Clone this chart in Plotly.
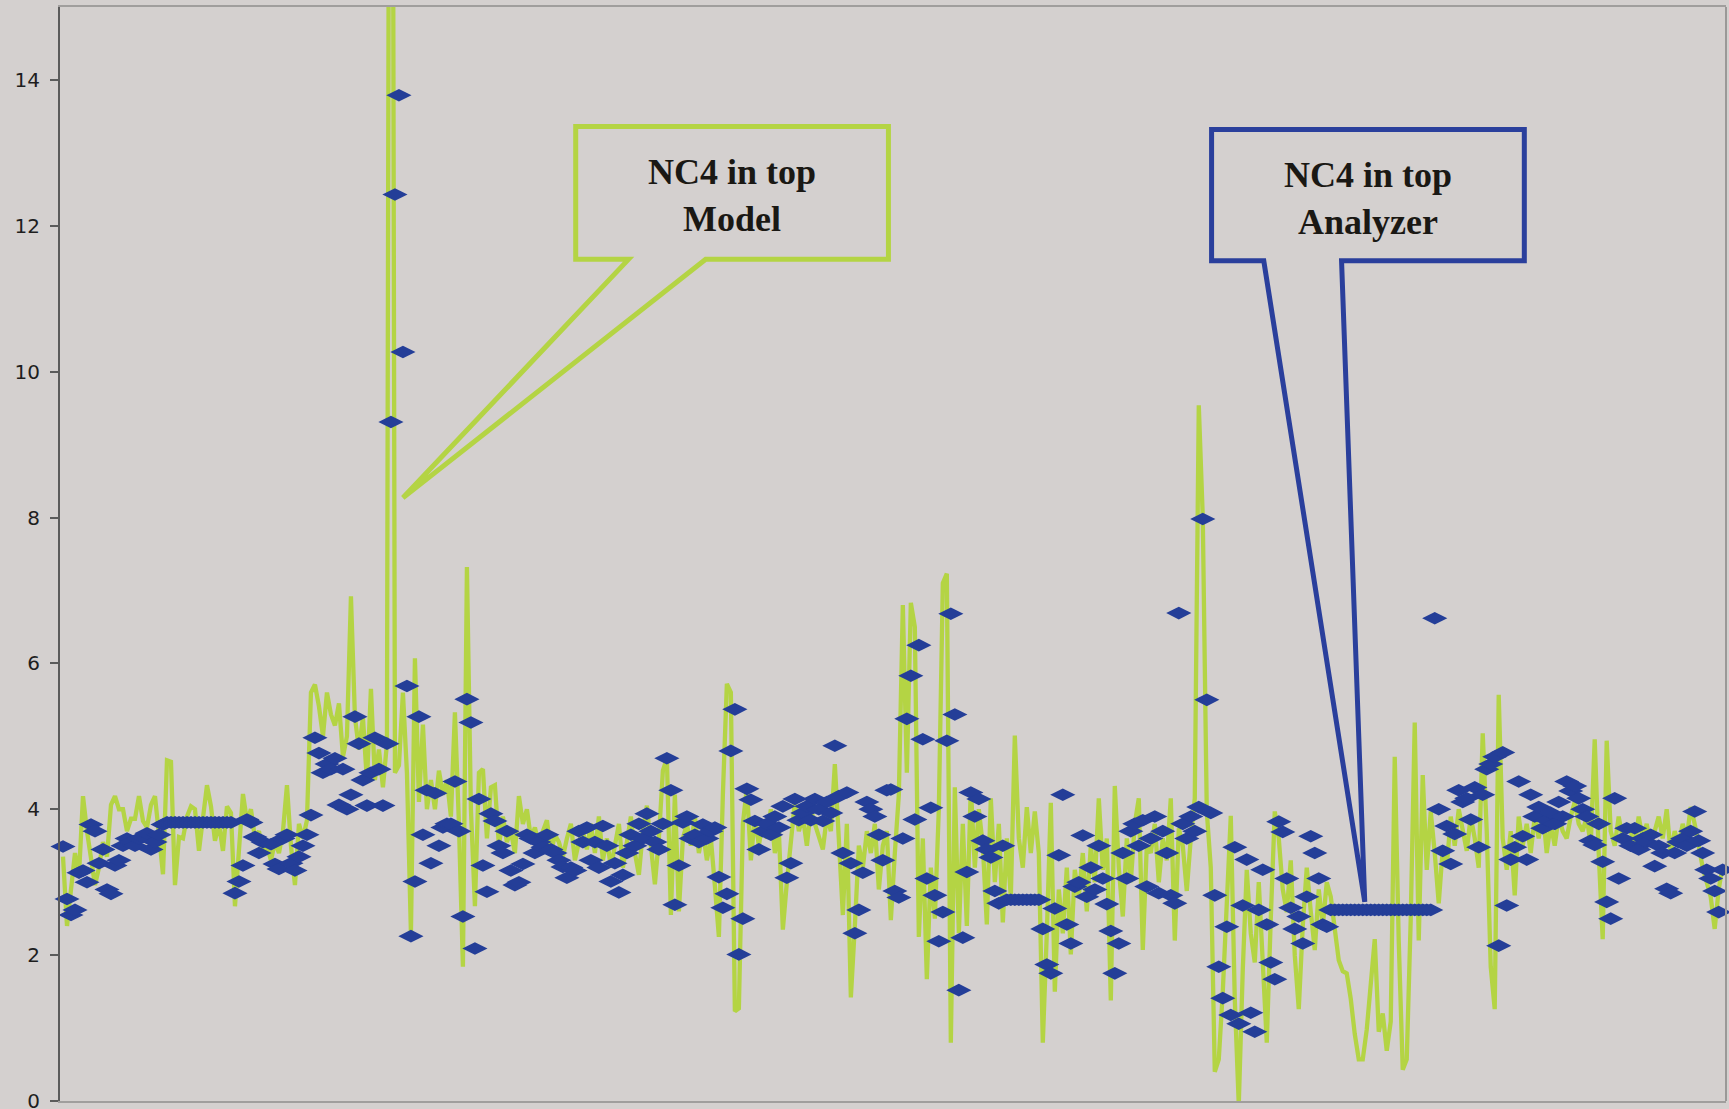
import plotly.graph_objects as go

# ---------------- data ----------------
analyzer = [
    3.49, 2.77, 2.55, 2.62, 3.13, 3.16, 3.00, 3.79, 3.70, 3.26,
    3.45, 2.90, 2.84, 3.23, 3.30, 3.50, 3.60, 3.55, 3.50, 3.60,
    3.62, 3.67, 3.45, 3.55, 3.65, 3.79,
    3.82, 3.82, 3.82, 3.82, 3.82, 3.82, 3.82, 3.82, 3.82, 3.82,
    3.82, 3.82, 3.82, 3.82, 3.82, 3.82, 3.82,
    2.85, 3.01, 3.23, 3.86, 3.82, 3.62, 3.40, 3.55,
    None, 3.52, 3.25, 3.18, 3.60, 3.65, 3.26, 3.16, 3.35, 3.50, 3.65, 3.92,
    4.98, 4.77, 4.50, 4.62, 4.55, 4.70, 4.06, 4.55, 4.00, 4.20,
    5.27, 4.90, 4.40, 4.05, 4.50, 4.98, 4.55, 4.05, 4.90,
    9.31, 12.43, 13.79, 10.27, 5.69, 2.26, 3.01, 5.27, 3.65, 4.26,
    3.26, 4.22, 3.50, 3.75, 3.80,
    3.80, 4.38, 3.70, 2.53, 5.51, 5.19, 2.09, 4.14, 3.23, 2.87,
    3.94, 3.84, 3.50, 3.40, 3.70, 3.16, 2.96, 3.00, 3.25, 3.65,
    3.60, 3.40, 3.55, 3.48, 3.65, 3.45, 3.40, 3.30, 3.21, 3.06,
    3.20, 3.16, 3.70, 3.55, 3.75, 3.30, 3.55, 3.20, 3.77, 3.50,
    3.01, 3.26, 2.86, 3.10, 3.40, 3.65, 3.50, 3.80, 3.60, 3.94,
    3.70, 3.55, 3.45, 3.80, 4.70, 4.26, 2.69, 3.23, 3.82, 3.90,
    3.60, 3.65, 3.55, 3.79, 3.60, 3.70, 3.75, 3.07, 2.65, 2.84,
    4.80, 5.37, 2.01, 2.50, 4.28, 4.13, 3.84, 3.45, 3.70, 3.80,
    3.65, 3.90, 3.75, 4.04, 3.06, 3.26, 4.14, 3.85, 3.95, 4.04,
    3.85, 4.14, 4.00, 3.84, 4.10, 3.95, 4.87, 4.18, 3.40, 4.23,
    3.26, 2.30, 2.62, 3.13, 4.10, 4.00, 3.90, 3.65, 3.30, 4.26,
    4.27, 2.88, 2.79, 3.60, 5.24, 5.83, 3.86, 6.25, 4.96, 3.05,
    4.02, 2.82, 2.19, 2.59, 4.94, 6.68, 5.30, 1.52, 2.24, 3.14,
    4.23, 3.90, 4.14, 3.57, 3.45, 3.34, 2.88, 2.71, 3.50, 2.76,
    2.76, 2.76, 2.76, 2.76, 2.76, 2.76, 2.76, 2.76, 2.36, 1.87,
    1.75, 2.64, 3.37, 4.20, 2.42, 2.16, 2.94, 3.00, 3.64, 2.80,
    3.20, 2.90, 3.50, 3.05, 2.70, 2.33, 1.75, 2.16, 3.40, 3.05,
    3.70, 3.80, 3.50, 3.85, 2.94, 3.60, 3.90, 2.85, 3.70, 3.40,
    2.82, 2.71, 6.69, 3.80, 3.60, 3.90, 3.70, 4.03, 7.98, 5.50,
    3.95, 2.82, 1.84, 1.41, 2.39, 1.18, 3.48, 1.06, 2.68, 3.31,
    1.21, 0.95, 2.62, 3.17, 2.42, 1.90, 1.67, 3.83, 3.69, 3.05,
    2.65, 2.36, 2.53, 2.16, 2.80, 3.63, 3.40, 3.05, 2.42, 2.39,
    2.62, 2.62, 2.62, 2.62, 2.62, 2.62, 2.62, 2.62, 2.62, 2.62,
    2.62, 2.62, 2.62, 2.62, 2.62, 2.62, 2.62, 2.62, 2.62, 2.62,
    2.62, 2.62, 2.62, 2.62, 2.62, 2.62,
    6.62, 4.00, 3.43, 3.77, 3.25, 3.66, 4.26, 4.10, 4.15, 3.86,
    4.30, 3.48, 4.20, 4.55, 4.62, 4.72, 2.13, 4.78, 2.68, 3.31,
    3.48, 4.38, 3.63, 3.31, 4.20, 3.90, 4.03, 3.74, 3.85, 3.95,
    3.80, 4.10, 3.90, 4.38, 4.25, 4.32, 4.15, 4.00, 3.90, 3.57,
    3.51, 3.80, 3.28, 2.73, 2.50, 4.15, 3.05, 3.60, 3.74, 3.50,
    3.74, 3.45, 3.60, 3.55, 3.65, 3.22, 3.50, 3.40, 2.91, 2.85,
    3.40, 3.55, 3.60, 3.50, 3.70, 3.97, 3.57, 3.40, 3.17, 3.05,
    2.88, 2.59, 3.17,
]

model = [
    3.35, 2.40, 2.90, 3.40, 3.10, 4.18, 3.70, 3.30, 2.96, 3.20,
    3.55, 3.35, 4.06, 4.18, 4.00, 4.00, 3.70, 3.87, 3.87, 4.18,
    3.84, 3.75, 4.06, 4.18, 3.60, 3.11,
    4.67, 4.65, 2.96, 3.62, 3.60, 3.90, 4.04, 4.00, 3.43, 3.90,
    4.33, 4.04, 3.57, 3.80, 3.43, 4.04, 3.95, 2.67, 3.40, 4.21,
    3.84, 4.00, 3.60, 3.70, 3.40,
    3.50, 3.30, 3.55, 3.40, 3.70, 4.33, 3.50, 2.96, 3.80, 3.60, 3.85, 5.60,
    5.71, 5.41, 5.00, 5.60, 5.30, 5.15, 5.45, 4.72, 5.00, 6.92,
    5.26, 4.82, 5.26, 4.38, 5.65, 4.40, 4.82, 4.30, 4.90, 30.0, 4.50,
    4.60, 5.60, 4.50, 2.30, 6.07, 4.10, 5.16, 4.00, 4.40, 4.00,
    4.53, 4.20, 4.40,
    3.90, 5.33, 3.80, 1.84, 7.32, 4.00, 2.67, 4.50, 4.55, 3.60,
    4.30, 4.33, 3.50, 3.90, 3.55, 3.70, 3.40, 4.18, 3.80, 4.00,
    3.60, 3.75, 3.50, 3.70, 3.85, 3.40, 3.65, 3.55, 3.35, 3.60,
    3.80, 3.30, 3.55, 3.70, 3.45, 3.80, 3.40, 3.90, 3.30, 3.60,
    3.20, 3.50, 3.80, 3.20, 3.60, 3.90, 3.40, 3.10, 3.70, 4.05,
    3.50, 2.97, 3.60, 4.53, 4.70, 2.55, 4.20, 2.60, 3.60, 3.80,
    3.50, 3.90, 3.40, 3.70, 3.30, 3.60, 2.95, 2.25, 4.20, 5.72,
    5.60, 1.23, 1.27, 3.80, 4.30, 3.30, 3.90, 3.50, 3.85, 3.60,
    4.00, 3.40, 3.70, 2.35, 3.00, 3.60, 4.10, 3.70, 3.90, 3.50,
    4.00, 3.80, 3.60, 3.45, 3.90, 3.70, 4.62, 3.60, 2.55, 3.80,
    1.42, 2.40, 3.50, 3.20, 3.70, 3.40, 3.80, 2.90, 3.50, 3.70,
    2.48, 3.40, 4.20, 6.80, 4.50, 6.83, 6.50, 2.25, 3.60, 1.67,
    3.20, 2.50, 4.00, 7.10, 7.23, 0.80, 4.30, 2.30, 3.80, 2.40,
    4.30, 3.20, 4.00, 3.50, 2.42, 4.15, 3.00, 3.80, 2.45, 3.60,
    2.80, 5.01, 3.60, 3.20, 4.03, 3.40, 3.97, 3.40, 0.80, 2.30,
    4.09, 1.50, 2.90, 2.30, 3.20, 2.01, 3.17, 2.80, 3.40, 2.60,
    3.50, 3.00, 4.15, 3.17, 3.60, 1.38, 4.32, 3.20, 2.53, 3.60,
    3.00, 3.80, 4.15, 2.07, 3.50, 3.40, 3.80, 3.00, 3.60, 3.30,
    4.15, 2.20, 3.74, 3.50, 2.88, 3.60, 4.15, 9.54, 8.00, 3.97,
    3.20, 0.40, 0.57, 1.50, 2.80, 3.91, 1.40, -0.05, 1.80, 3.17,
    2.30, 1.90, 3.00, 2.00, 0.80, 2.50, 3.97, 3.60, 2.90, 2.59,
    3.30, 2.00, 1.26, 2.40, 3.20, 2.60, 2.07, 2.90, 2.40, 3.00,
    2.80, 2.36, 1.93, 1.78, 1.75, 1.40, 0.92, 0.57, 0.57, 0.98,
    1.67, 2.22, 0.95, 1.20, 0.69, 1.09, 4.72, 2.19, 0.43, 0.57,
    2.50, 5.19, 2.20, 4.47, 3.17, 3.97, 3.40, 2.71, 3.45, 3.20,
    3.90, 3.50, 4.00, 3.70, 3.43, 3.90, 3.60, 3.20, 5.04, 3.70,
    1.84, 1.26, 5.57, 3.60, 3.17, 3.70, 2.82, 3.90, 3.50, 3.80,
    3.40, 3.90, 3.60, 4.00, 3.40, 3.80, 3.50, 3.90, 3.70, 3.60,
    3.90, 4.10, 3.80, 3.70, 3.90, 3.50, 4.96, 3.40, 2.22, 4.94,
    3.70, 3.50, 3.90, 3.60, 3.80, 3.70, 3.50, 3.90, 3.60, 3.80,
    3.50, 3.70, 3.90, 3.60, 4.00, 3.40, 3.70, 3.50, 3.80, 3.60,
    4.03, 3.80, 3.50, 3.20, 3.00, 2.80, 2.36, 2.90, 3.22,
]

y_tick_values = [0, 2, 4, 6, 8, 10, 12, 14]
y_tick_labels = ["0", "2", "4", "6", "8", "10", "12", "14"]
callout_model_text = "<b>NC4 in top<br>Model</b>"
callout_analyzer_text = "<b>NC4 in top<br>Analyzer</b>"

# ---------------- styling ----------------
BG = "#d4d0cf"
GREEN = "#b4d444"
BLUE = "#243e98"

x_index = list(range(len(model)))
x_analyzer = list(range(len(analyzer)))

fig = go.Figure()
fig.add_trace(go.Scatter(
    x=x_index, y=model, mode="lines", name="Model",
    line=dict(color=GREEN, width=4.3),
    hoverinfo="skip", showlegend=False,
))
fig.add_trace(go.Scatter(
    x=x_analyzer, y=analyzer, mode="markers", name="Analyzer",
    marker=dict(symbol="diamond-wide", size=18, color=BLUE, line=dict(width=0)),
    cliponaxis=False, hoverinfo="skip", showlegend=False,
))

# callout shapes (data coordinates)
green_path = ("M 128.2,13.36 L 206.4,13.36 L 206.4,11.54 L 160.7,11.54 "
              "L 85,8.27 L 141.4,11.54 L 128.2,11.54 Z")
blue_path = ("M 287.2,13.32 L 365.4,13.32 L 365.4,11.52 L 319.7,11.52 "
             "L 325.5,2.73 L 300.25,11.52 L 287.2,11.52 Z")

shapes = [
    dict(type="path", xref="x", yref="y", path=green_path,
         line=dict(color=GREEN, width=5), fillcolor=BG, layer="above"),
    dict(type="path", xref="x", yref="y", path=blue_path,
         line=dict(color="#2a3f9c", width=5), fillcolor=BG, layer="above"),
    dict(type="line", xref="paper", yref="paper", x0=1, x1=1, y0=0, y1=1,
         line=dict(color="#9a9897", width=2), layer="above"),
]

annotations = [
    dict(x=167.3, y=12.42, xref="x", yref="y", text=callout_model_text,
         showarrow=False, font=dict(family="Liberation Serif, Times New Roman, serif",
                                    size=36, color="#1a1814")),
    dict(x=326.3, y=12.38, xref="x", yref="y", text=callout_analyzer_text,
         showarrow=False, font=dict(family="Liberation Serif, Times New Roman, serif",
                                    size=36, color="#1a1814")),
]

fig.update_layout(
    width=1729, height=1109,
    margin=dict(l=60, r=3, t=7, b=8, pad=0, autoexpand=False),
    paper_bgcolor=BG, plot_bgcolor=BG,
    shapes=shapes, annotations=annotations,
    xaxis=dict(range=[-0.75, 415.83], showgrid=False, zeroline=False,
               showticklabels=False, ticks="", showline=True, mirror=True,
               linecolor="#a09e9d", linewidth=2, automargin=False),
    yaxis=dict(range=[0, 15], showgrid=False, zeroline=False,
               tickmode="array", tickvals=y_tick_values, ticktext=y_tick_labels,
               ticks="outside", ticklen=8, tickwidth=2, tickcolor="#5b5b5b",
               showline=True, linecolor="#5b5b5b", linewidth=2,
               tickfont=dict(family="DejaVu Sans, Arial, sans-serif", size=20, color="#1e1e1e"),
               ticklabelstandoff=6, ticklabeloverflow="allow", automargin=False),
)

fig.write_html("out.html", config={"displayModeBar": False},
               post_script="document.body.style.margin='0px';document.body.style.overflow='hidden';")
